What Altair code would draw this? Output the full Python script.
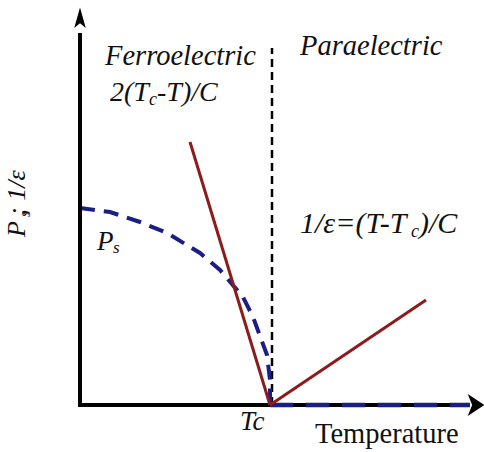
import altair as alt
import pandas as pd

# Temperature axis (arbitrary units) and Ps / 1/eps axis (arbitrary units)
TC = 47.5

# spontaneous polarisation below Tc
ps_t = [0, 7.5, 15, 21.75, 30, 35, 40.75, 43.25, 46.75, 47.5, 47.5]
ps_v = [49.25, 48.25, 45.75, 43, 38, 33.75, 27, 22, 12.5, 6.25, 0]
# Ps vanishes above Tc
ps_zero_t = [TC, 97.5]
ps_zero_v = [0, 0]

# inverse permittivity, ferroelectric side 2(Tc-T)/C and paraelectric side (T-Tc)/C
inv_t = [27.5, TC, TC, 86.5]
inv_v = [65.75, 0, 0, 26.25]
inv_side = ["ferro", "ferro", "para", "para"]

# phase boundary at Tc
boundary_t = [48]
boundary_top = [89.25]

XDOM = [-20, 101]
YDOM = [-11.75, 101.25]

FONT = "Liberation Serif"
RED = "#8e1b1b"
BLUE = "#1b1f85"


def xs():
    return alt.X("t:Q", scale=alt.Scale(domain=XDOM, nice=False, zero=False), axis=None)


def ys(field="v"):
    return alt.Y(f"{field}:Q", scale=alt.Scale(domain=YDOM, nice=False, zero=False), axis=None)


# axes drawn as lines with arrowheads
axes_df = pd.DataFrame({"t": [0, 0, 97], "v": [93, 0, 0]})
axes = alt.Chart(axes_df).mark_line(color="black", strokeWidth=4).encode(
    x=xs(), y=ys(), order=alt.Order("t:Q")
)

up_arrow = "M0,-1 L0.55,0.95 L0,0.5 L-0.55,0.95 Z"
right_arrow = "M0.75,0 L-0.75,-1 L-0.35,0 L-0.75,1 Z"
head_up = alt.Chart(pd.DataFrame({"t": [0], "v": [96.75]})).mark_point(
    shape=up_arrow, filled=True, size=440, color="black", opacity=1, strokeWidth=0
).encode(x=xs(), y=ys())
head_right = alt.Chart(pd.DataFrame({"t": [99], "v": [0]})).mark_point(
    shape=right_arrow, filled=True, size=484, color="black", opacity=1, strokeWidth=0
).encode(x=xs(), y=ys())

boundary = alt.Chart(
    pd.DataFrame({"t": boundary_t, "v": [0], "v2": boundary_top})
).mark_rule(color="black", strokeWidth=2.5, strokeDash=[8, 5]).encode(
    x=xs(), y=ys(), y2="v2:Q"
)

ps_df = pd.DataFrame({"t": ps_t, "v": ps_v, "i": range(len(ps_t))})
ps_line = alt.Chart(ps_df).mark_line(
    color=BLUE, strokeWidth=4, strokeDash=[15, 9]
).encode(x=xs(), y=ys(), order="i:Q")

ps_zero = alt.Chart(pd.DataFrame({"t": ps_zero_t, "v": ps_zero_v})).mark_line(
    color=BLUE, strokeWidth=4.5, strokeDash=[23, 13]
).encode(x=xs(), y=ys())

inv_df = pd.DataFrame({"t": inv_t, "v": inv_v, "side": inv_side})
inv_lines = alt.Chart(inv_df).mark_line(color=RED, strokeWidth=3).encode(
    x=xs(), y=ys(), detail="side:N"
)

# italic labels and formulas, subscripts as separate smaller pieces
labels = pd.DataFrame(
    {
        "t": [6.25, 55, 7.5, 17.25, 19.25, 55, 82.75, 84.75, 4.25, 8.25, 40],
        "v": [85, 87.5, 76, 75, 76, 43, 42, 43, 38.75, 38, -6.25],
        "text": [
            "Ferroelectric", "Paraelectric",
            "2(T", "c", "-T)/C",
            "1/ε=(T-T", "c", ")/C",
            "P", "s",
            "Tc",
        ],
        "size": [28.5, 28.5, 28, 18, 28, 30, 18, 30, 27, 17, 27],
    }
)
text_italic = alt.Chart(labels).mark_text(
    align="left", baseline="alphabetic", font=FONT, fontStyle="italic", color="#111"
).encode(x=xs(), y=ys(), text="text:N", size=alt.Size("size:Q", scale=None, legend=None))

temp_label = alt.Chart(pd.DataFrame({"t": [58.75], "v": [-9.5], "text": ["Temperature"]})).mark_text(
    align="left", baseline="alphabetic", font=FONT, fontSize=28.5, color="#111"
).encode(x=xs(), y=ys(), text="text:N")

# vertical axis title, read bottom to top
ylab = pd.DataFrame(
    {
        "t": [-13.75, -12.4, -13.75],
        "v": [42, 47, 47.25],
        "text": ["P", "s", "; 1/ε"],
        "size": [26, 16, 26],
    }
)
ylabel = alt.Chart(ylab).mark_text(
    align="left", baseline="alphabetic", font=FONT, fontStyle="italic", angle=270, color="#111"
).encode(x=xs(), y=ys(), text="text:N", size=alt.Size("size:Q", scale=None, legend=None))

chart = (
    alt.layer(
        boundary, ps_line, axes, ps_zero, head_up, head_right, inv_lines,
        text_italic, temp_label, ylabel,
    )
    .properties(width=484, height=452, autosize=alt.AutoSizeParams(type="none"), padding=0)
    .configure_view(stroke=None)
)

chart.save("out.html", embed_options={"renderer": "svg", "actions": False})
